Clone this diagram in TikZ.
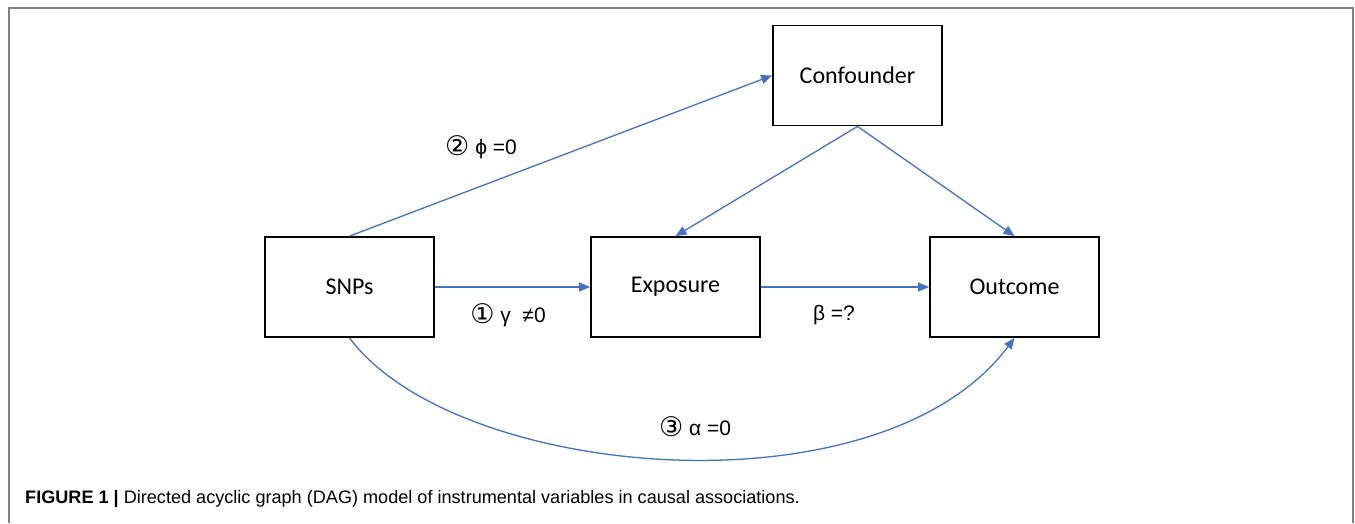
\documentclass[tikz,border=0pt]{standalone}
\usepackage{fontspec}
\setmainfont{Carlito}
\newfontfamily\arialf{Liberation Sans}
\newfontfamily\dejavu{DejaVu Sans}
\usetikzlibrary{arrows.meta}
\definecolor{arrblue}{HTML}{4472C4}
\definecolor{framegray}{HTML}{7F7F7F}
\newcommand{\circnum}[1]{{\dejavu\fontsize{27}{24}\selectfont\raisebox{-1pt}{#1}}}
\begin{document}
\begin{tikzpicture}[x=1pt,y=-1pt,
  box/.style={draw=black, line width=1.8pt, minimum width=169pt, minimum height=100pt, inner sep=0pt, font=\fontsize{24}{28}\selectfont},
  conn/.style={draw=arrblue, line width=1.3pt, -{Triangle[length=11pt,width=9pt]}},
  lbl/.style={font=\arialf\fontsize{21}{24}\selectfont, inner sep=0pt}]
\useasboundingbox (0,0) rectangle (1355,523);
\fill[white] (0,0) rectangle (1355,523);
\draw[framegray, line width=1.5pt] (9,523) -- (9,8) -- (1353,8) -- (1353,523);
\node[box] (conf) at (857.5,75.5) {Confounder};
\node[box] (snps) at (349.5,287) {SNPs};
\node[box] (expo) at (675.5,287) {Exposure};
\node[box] (outc) at (1014.5,287) {Outcome};
\draw[conn] (snps.north) -- (conf.west);
\draw[conn] (conf.south) -- (expo.north);
\draw[conn] (conf.south) -- (outc.north);
\draw[conn] (snps.east) -- (expo.west);
\draw[conn] (expo.east) -- (outc.west);
\draw[conn] (snps.south) .. controls (455,480) and (880,518) .. (outc.south);
\node[lbl] (l2) at (481,147) {\circnum{②} ϕ =0};
\node[lbl] (l1) at (508,315) {\circnum{①} γ \ ≠0};
\node[lbl] (lb) at (834,315) {β =?};
\node[lbl] (l3) at (695,427) {\circnum{③} α =0};
\node[anchor=base west, inner sep=0pt, font=\arialf\fontsize{18.1}{20}\selectfont] (cap) at (25,503) {\textbf{FIGURE 1 |} Directed acyclic graph (DAG) model of instrumental variables in causal associations.};
\end{tikzpicture}
\end{document}
